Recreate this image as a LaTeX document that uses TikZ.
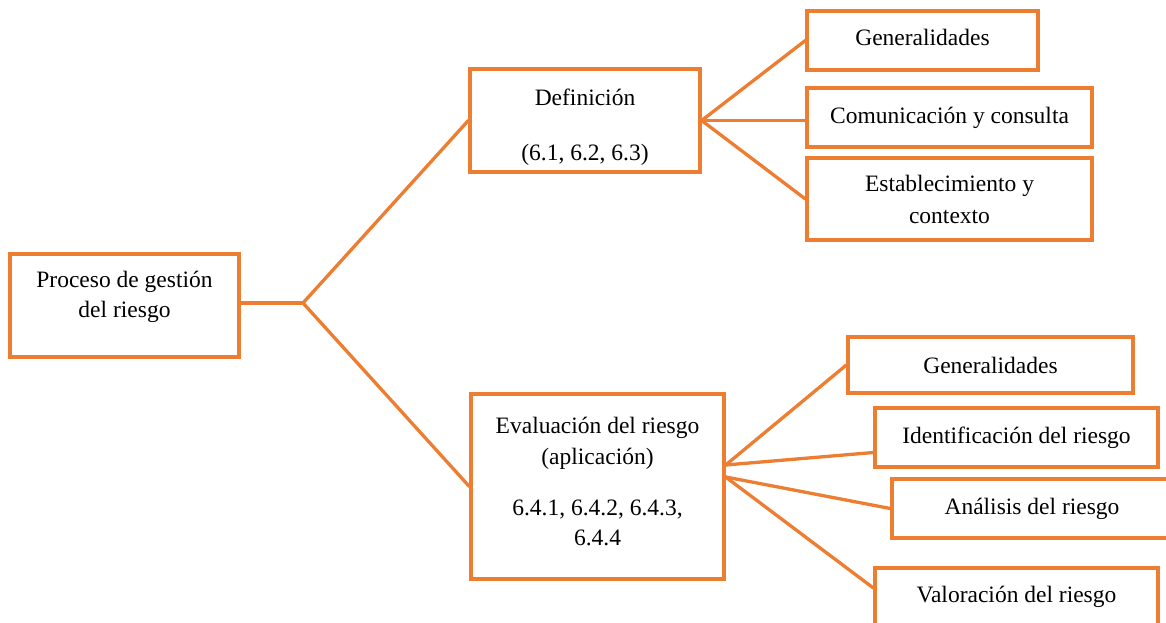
\documentclass[tikz,border=0pt]{standalone}
\usepackage{fontspec}
\setmainfont{Liberation Serif}
\usetikzlibrary{calc}
\definecolor{boxorange}{RGB}{237,125,49}
\tikzset{
  box/.style={draw=boxorange, line width=3.3pt, fill=white, align=center,
    inner sep=0pt, font=\fontsize{23.5}{32}\selectfont},
  txt/.style={align=center, inner sep=0pt, font=\fontsize{23.5}{30}\selectfont},
  link/.style={draw=boxorange, line width=3.3pt, line cap=round, line join=round}
}
\begin{document}
\begin{tikzpicture}[x=1pt,y=-1pt]
\useasboundingbox (0,0) rectangle (1166,623);

% root
\node[box, minimum width=229pt, minimum height=103pt] (proc) at (124.5,305.5) {};
\node[txt] (procT) at (124.5,297) {Proceso de gestión\\del riesgo};

% first level
\node[box, minimum width=230pt, minimum height=103pt] (def) at (585,120.5) {};
\node[txt] (defT) at (585,127) {Definición\\[25pt](6.1, 6.2, 6.3)};
\node[box, minimum width=253pt, minimum height=185pt] (eval) at (597.5,486.5) {};
\node[txt] (evalT) at (597.5,481)
  {Evaluación del riesgo\\[1pt](aplicación)\\[21pt]6.4.1, 6.4.2, 6.4.3,\\6.4.4};

% children of Definición
\node[box, minimum width=231pt, minimum height=59pt] (gen1) at (922.5,40.5) {};
\node[txt] (gen1T) at (922.5,37.5) {Generalidades};
\node[box, minimum width=285pt, minimum height=59pt] (com) at (949.5,117.5) {Comunicación y consulta};
\node[box, minimum width=285pt, minimum height=82pt] (est) at (949.5,199) {Establecimiento y\\contexto};

% children of Evaluación
\node[box, minimum width=285pt, minimum height=56pt] (gen2) at (990.5,365) {Generalidades};
\node[box, minimum width=283pt, minimum height=59pt] (ide) at (1016.5,437.5) {Identificación del riesgo};
\node[box, minimum width=280pt, minimum height=59pt] (ana) at (1032,508.5) {Análisis del riesgo};
\node[box, minimum width=283pt, minimum height=58pt] (val) at (1016.5,597) {Valoración del riesgo};

% connectors
\coordinate (j) at (303,303);
\coordinate (eu) at ($(eval.east)+(0,-21.5)$);
\coordinate (el) at ($(eval.east)+(0,-9.5)$);
\path[link] (proc.east |- j) -- (j);
\path[link] (j) -- (def.west);
\path[link] (j) -- (eval.west);

\path[link] (def.east) -- (gen1.west);
\path[link] (def.east) -- (com.west |- def.east);
\path[link] (def.east) -- (est.west);

\path[link] (eu) -- (gen2.west);
\path[link] (eu) -- ($(ide.west)+(0,15)$);
\path[link] (el) -- (ana.west);
\path[link] (el) -- ($(val.west)+(0,-9)$);
\end{tikzpicture}
\end{document}
